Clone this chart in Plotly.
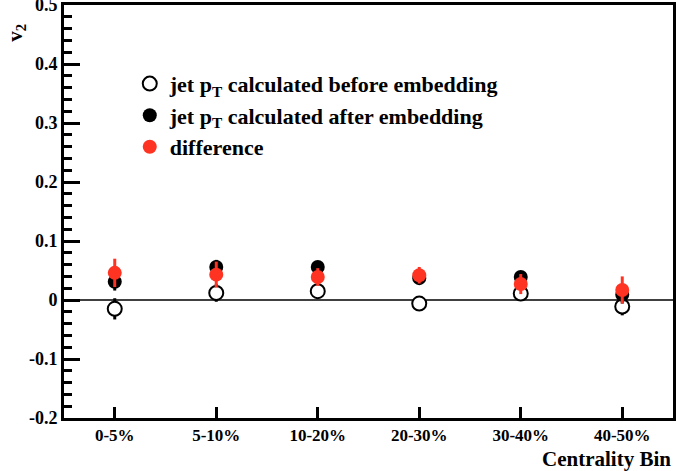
import plotly.graph_objects as go

categories = ['0-5%', '5-10%', '10-20%', '20-30%', '30-40%', '40-50%']

v2_before = [-0.015, 0.012, 0.015, -0.006, 0.011, -0.011]
err_before = [0.018, 0.015, 0.012, 0.009, 0.012, 0.015]

v2_after = [0.031, 0.056, 0.056, 0.037, 0.039, 0.009]
err_after = [0.015, 0.012, 0.010, 0.010, 0.010, 0.015]

v2_diff = [0.046, 0.043, 0.039, 0.042, 0.027, 0.017]
err_diff = [0.024, 0.022, 0.015, 0.014, 0.017, 0.023]

xpos = list(range(len(categories)))
FONT = 'Times New Roman'

fig = go.Figure()

# zero line
fig.add_shape(type='line', xref='x', yref='y', x0=-0.5, x1=5.5, y0=0, y1=0,
              line=dict(color='black', width=1.5), layer='below')

fig.add_trace(go.Scatter(
    x=xpos, y=v2_before, mode='markers',
    name='<b>jet p<sub>T</sub> calculated before embedding</b>',
    legendgroup='a',
    marker=dict(symbol='circle', size=14, color='white', line=dict(color='black', width=2)),
    error_y=dict(type='data', array=err_before, color='black', thickness=3, width=0)))

fig.add_trace(go.Scatter(
    x=xpos, y=v2_after, mode='markers',
    name='<b>jet p<sub>T</sub> calculated after embedding</b>',
    legendgroup='b',
    marker=dict(symbol='circle', size=14, color='black'),
    error_y=dict(type='data', array=err_after, color='black', thickness=3, width=0)))

fig.add_trace(go.Scatter(
    x=xpos, y=v2_diff, mode='markers',
    name='<b>difference</b>',
    legendgroup='c',
    marker=dict(symbol='circle', size=14, color='#ff3322'),
    error_y=dict(type='data', array=err_diff, color='#ff3322', thickness=3, width=0)))

fig.update_layout(
    width=676, height=471,
    margin=dict(l=64, r=3, t=5, b=53, autoexpand=False),
    plot_bgcolor='white', paper_bgcolor='white',
    font=dict(family=FONT, color='black', size=17),
    showlegend=True,
    legend=dict(x=0.108, y=0.86, xanchor='left', yanchor='top',
                bgcolor='rgba(0,0,0,0)', font=dict(family=FONT, size=22),
                tracegroupgap=0, itemwidth=30),
    xaxis=dict(range=[-0.5, 5.5], tickvals=xpos,
               ticktext=['<b>%s</b>' % c for c in categories],
               ticks='inside', ticklen=11, tickwidth=3, tickcolor='black',
               showline=True, linecolor='black', linewidth=3, mirror=True,
               showgrid=False, zeroline=False, automargin=False,
               tickfont=dict(family=FONT, size=17)),
    yaxis=dict(range=[-0.2, 0.5],
               tickvals=[-0.2, -0.1, 0, 0.1, 0.2, 0.3, 0.4, 0.5],
               ticktext=['<b>-0.2</b>', '<b>-0.1</b>', '<b>0</b>', '<b>0.1</b>',
                         '<b>0.2</b>', '<b>0.3</b>', '<b>0.4</b>', '<b>0.5</b>'],
               ticks='inside', ticklen=16, tickwidth=3, tickcolor='black',
               minor=dict(dtick=0.02, tick0=0, ticks='inside', ticklen=8,
                          tickwidth=3, tickcolor='black'),
               showline=True, linecolor='black', linewidth=3, mirror=True,
               showgrid=False, zeroline=False, automargin=False,
               ticklabeloverflow='allow',
               tickfont=dict(family=FONT, size=18)),
    annotations=[
        dict(text='<b>v<sub>2</sub></b>', xref='paper', yref='paper',
             x=-0.08, y=0.96, xanchor='center', yanchor='top', textangle=-90,
             showarrow=False, font=dict(family=FONT, size=21)),
        dict(text='<b>Centrality Bin</b>', xref='paper', yref='paper',
             x=1.0, y=-0.066, xanchor='right', yanchor='top',
             showarrow=False, font=dict(family=FONT, size=21)),
    ],
)

fig.write_html('out.html', config={'displayModeBar': False},
               post_script="document.body.style.margin='0';")
